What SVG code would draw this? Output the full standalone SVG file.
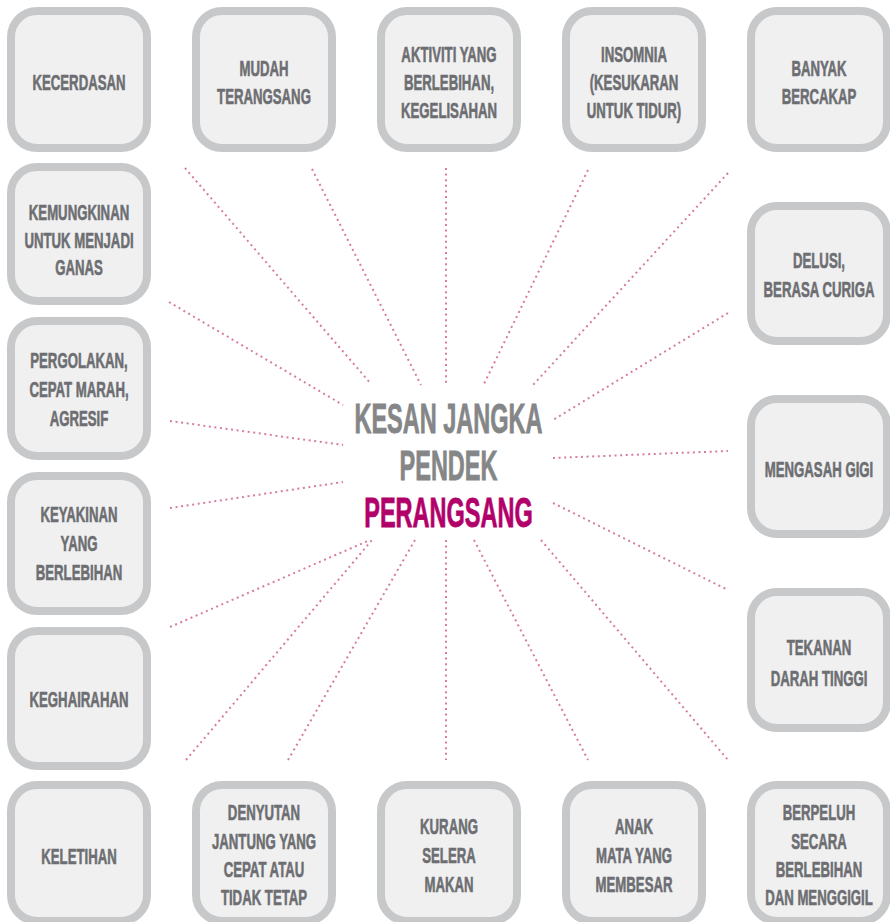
<svg xmlns="http://www.w3.org/2000/svg" width="890" height="922" viewBox="0 0 890 922">
<style>
.box{fill:#f0f0f1;stroke:#c7c8ca;stroke-width:8}
.t{font-family:"Liberation Sans",Arial,sans-serif;font-weight:bold;font-size:22px;fill:#6d6e71;stroke:#6d6e71;stroke-width:0.6;text-anchor:middle}
.c{font-family:"Liberation Sans",Arial,sans-serif;font-weight:bold;font-size:42px;fill:#858688;stroke:#858688;stroke-width:0.8;text-anchor:middle}
.m{fill:#b2006b;stroke:#b2006b}
.dl{stroke:#d67ca5;stroke-width:2;stroke-dasharray:2 3.6;fill:none}
</style>
<rect width="890" height="922" fill="#ffffff"/>
<g id="connectors">
<line class="dl" x1="185" y1="168" x2="371" y2="384"/>
<line class="dl" x1="312" y1="169" x2="421" y2="385"/>
<line class="dl" x1="446" y1="168" x2="446" y2="383"/>
<line class="dl" x1="588" y1="170" x2="484" y2="384"/>
<line class="dl" x1="728" y1="173" x2="533" y2="385"/>
<line class="dl" x1="169" y1="302" x2="343" y2="405"/>
<line class="dl" x1="728" y1="313" x2="553" y2="420"/>
<line class="dl" x1="170" y1="421" x2="343" y2="445"/>
<line class="dl" x1="553" y1="458" x2="728" y2="451"/>
<line class="dl" x1="170" y1="508" x2="343" y2="482"/>
<line class="dl" x1="553" y1="503" x2="728" y2="590"/>
<line class="dl" x1="170" y1="627" x2="370" y2="540"/>
<line class="dl" x1="186" y1="760" x2="372" y2="540"/>
<line class="dl" x1="288" y1="760" x2="415" y2="540"/>
<line class="dl" x1="446" y1="540" x2="446" y2="760"/>
<line class="dl" x1="474" y1="540" x2="588" y2="760"/>
<line class="dl" x1="541" y1="540" x2="728" y2="760"/>
</g>
<g id="center">
<text class="c" transform="translate(448.5,0) scale(0.56,1)"><tspan x="0" y="433">KESAN JANGKA</tspan><tspan x="0" y="480">PENDEK</tspan><tspan x="0" y="527" class="m">PERANGSANG</tspan></text>
</g>
<g id="n1"><rect class="box" x="11" y="11" width="136" height="137" rx="26"/>
<text class="t" transform="translate(79,0) scale(0.6,1)"><tspan x="0" y="90">KECERDASAN</tspan></text></g>
<g id="n2"><rect class="box" x="196" y="11" width="136" height="137" rx="26"/>
<text class="t" transform="translate(264,0) scale(0.6,1)"><tspan x="0" y="76">MUDAH</tspan><tspan x="0" y="104">TERANGSANG</tspan></text></g>
<g id="n3"><rect class="box" x="381" y="11" width="136" height="137" rx="26"/>
<text class="t" transform="translate(449,0) scale(0.6,1)"><tspan x="0" y="62">AKTIVITI YANG</tspan><tspan x="0" y="90">BERLEBIHAN,</tspan><tspan x="0" y="118">KEGELISAHAN</tspan></text></g>
<g id="n4"><rect class="box" x="566" y="11" width="136" height="137" rx="26"/>
<text class="t" transform="translate(634,0) scale(0.6,1)"><tspan x="0" y="62">INSOMNIA</tspan><tspan x="0" y="90">(KESUKARAN</tspan><tspan x="0" y="118">UNTUK TIDUR)</tspan></text></g>
<g id="n5"><rect class="box" x="751" y="11" width="136" height="137" rx="26"/>
<text class="t" transform="translate(819,0) scale(0.6,1)"><tspan x="0" y="76">BANYAK</tspan><tspan x="0" y="104">BERCAKAP</tspan></text></g>
<g id="n6"><rect class="box" x="11" y="167" width="136" height="134" rx="26"/>
<text class="t" transform="translate(79,0) scale(0.6,1)"><tspan x="0" y="220">KEMUNGKINAN</tspan><tspan x="0" y="248">UNTUK MENJADI</tspan><tspan x="0" y="275">GANAS</tspan></text></g>
<g id="n7"><rect class="box" x="11" y="321" width="136" height="135" rx="26"/>
<text class="t" transform="translate(79,0) scale(0.6,1)"><tspan x="0" y="368">PERGOLAKAN,</tspan><tspan x="0" y="397">CEPAT MARAH,</tspan><tspan x="0" y="426">AGRESIF</tspan></text></g>
<g id="n8"><rect class="box" x="11" y="476" width="136" height="135" rx="26"/>
<text class="t" transform="translate(79,0) scale(0.6,1)"><tspan x="0" y="522">KEYAKINAN</tspan><tspan x="0" y="551">YANG</tspan><tspan x="0" y="580">BERLEBIHAN</tspan></text></g>
<g id="n9"><rect class="box" x="11" y="631" width="136" height="135" rx="26"/>
<text class="t" transform="translate(79,0) scale(0.6,1)"><tspan x="0" y="707">KEGHAIRAHAN</tspan></text></g>
<g id="n10"><rect class="box" x="11" y="785" width="136" height="136" rx="26"/>
<text class="t" transform="translate(79,0) scale(0.6,1)"><tspan x="0" y="864">KELETIHAN</tspan></text></g>
<g id="n11"><rect class="box" x="196" y="785" width="136" height="136" rx="26"/>
<text class="t" transform="translate(264,0) scale(0.6,1)"><tspan x="0" y="820">DENYUTAN</tspan><tspan x="0" y="849">JANTUNG YANG</tspan><tspan x="0" y="877">CEPAT ATAU</tspan><tspan x="0" y="905">TIDAK TETAP</tspan></text></g>
<g id="n12"><rect class="box" x="381" y="785" width="136" height="136" rx="26"/>
<text class="t" transform="translate(449,0) scale(0.6,1)"><tspan x="0" y="834">KURANG</tspan><tspan x="0" y="863">SELERA</tspan><tspan x="0" y="892">MAKAN</tspan></text></g>
<g id="n13"><rect class="box" x="566" y="785" width="136" height="136" rx="26"/>
<text class="t" transform="translate(634,0) scale(0.6,1)"><tspan x="0" y="834">ANAK</tspan><tspan x="0" y="863">MATA YANG</tspan><tspan x="0" y="892">MEMBESAR</tspan></text></g>
<g id="n14"><rect class="box" x="751" y="785" width="136" height="136" rx="26"/>
<text class="t" transform="translate(819,0) scale(0.6,1)"><tspan x="0" y="820">BERPELUH</tspan><tspan x="0" y="849">SECARA</tspan><tspan x="0" y="877">BERLEBIHAN</tspan><tspan x="0" y="905">DAN MENGGIGIL</tspan></text></g>
<g id="n15"><rect class="box" x="751" y="206" width="136" height="135" rx="26"/>
<text class="t" transform="translate(819,0) scale(0.6,1)"><tspan x="0" y="268">DELUSI,</tspan><tspan x="0" y="297">BERASA CURIGA</tspan></text></g>
<g id="n16"><rect class="box" x="751" y="399" width="136" height="135" rx="26"/>
<text class="t" transform="translate(819,0) scale(0.6,1)"><tspan x="0" y="477">MENGASAH GIGI</tspan></text></g>
<g id="n17"><rect class="box" x="751" y="592" width="136" height="136" rx="26"/>
<text class="t" transform="translate(819,0) scale(0.6,1)"><tspan x="0" y="655">TEKANAN</tspan><tspan x="0" y="686">DARAH TINGGI</tspan></text></g>
</svg>
